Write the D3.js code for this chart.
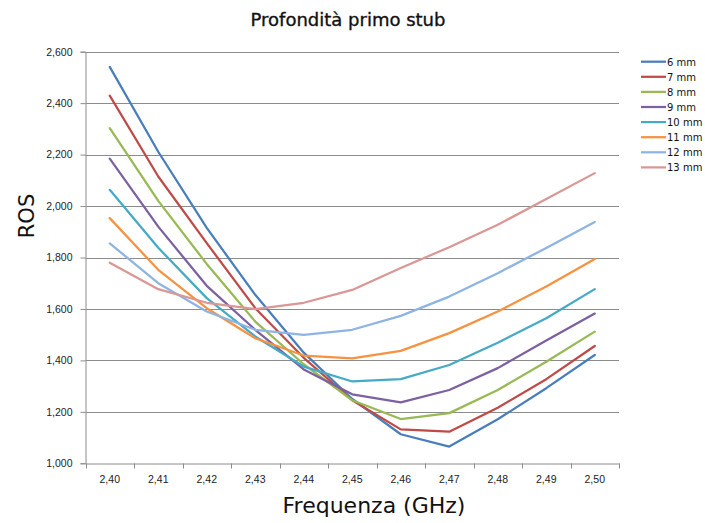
<!DOCTYPE html>
<html><head><meta charset="utf-8">
<script src="https://cdn.jsdelivr.net/npm/d3@7"></script>
<style>body{margin:0;background:#fff}svg{display:block}</style>
</head><body>
<svg id="c" width="705" height="523"></svg>
<script>
const categories = ["2,40","2,41","2,42","2,43","2,44","2,45","2,46","2,47","2,48","2,49","2,50"];
const seriesNames = ["6 mm","7 mm","8 mm","9 mm","10 mm","11 mm","12 mm","13 mm"];
const s6  = [2541,2211,1915,1655,1430,1250,1113,1065,1171,1292,1421];
const s7  = [2429,2115,1856,1603,1410,1245,1132,1123,1216,1327,1456];
const s8  = [2303,2020,1775,1551,1385,1245,1172,1195,1285,1395,1512];
const s9  = [2184,1920,1690,1519,1365,1268,1237,1285,1370,1477,1582];
const s10 = [2063,1838,1642,1493,1376,1318,1327,1382,1469,1564,1677];
const s11 = [1953,1752,1603,1486,1419,1408,1437,1506,1590,1687,1794];
const s12 = [1855,1700,1590,1519,1499,1519,1573,1648,1739,1837,1938];
const s13 = [1780,1677,1624,1599,1624,1674,1759,1840,1927,2027,2128];
const seriesValues = [s6,s7,s8,s9,s10,s11,s12,s13];
const yTicks = [1000,1200,1400,1600,1800,2000,2200,2400,2600];
const colors = ["#4A7EBB","#BE4B48","#98B954","#7D60A0","#46AAC5","#F69240","#8EB4E3","#D99795"];

const svg = d3.select("#c");
const L = 85.5, R = 619, T = 51.7, B = 463.3;
const x = d3.scaleBand().domain(categories).range([L, R]).padding(0);
const y = d3.scaleLinear().domain([1000, 2600]).range([B, T]);
const fmt = d => d3.format(",")(d);

// gridlines
svg.append("g").selectAll("line").data(yTicks.slice(1)).join("line")
  .attr("x1", L).attr("x2", R)
  .attr("y1", d => Math.round(y(d)) + 0.5).attr("y2", d => Math.round(y(d)) + 0.5)
  .attr("stroke", "#8c8c8c").attr("stroke-width", 1);

// y axis
const ya = svg.append("g").attr("transform", `translate(${L},0)`)
  .call(d3.axisLeft(y).tickValues(yTicks).tickFormat(fmt).tickSize(5).tickPadding(8));
ya.selectAll("path,line").attr("stroke", "#8c8c8c");
ya.selectAll("text").attr("font-family", "Liberation Sans, Arial, sans-serif").attr("font-size", 10.5).attr("fill", "#222");

// x axis
const xa = svg.append("g").attr("transform", `translate(0,${Math.round(B)+0.5})`)
  .call(d3.axisBottom(x).tickSize(0).tickPadding(12));
xa.select("path").attr("stroke", "#8c8c8c");
xa.selectAll("text").attr("font-family", "Liberation Sans, Arial, sans-serif").attr("font-size", 10.5).attr("fill", "#222");
const bounds = categories.map(c => x(c)).concat([R]);
xa.selectAll(".bt").data(bounds).join("line").attr("class","bt")
  .attr("x1", d => Math.round(d)+0.5).attr("x2", d => Math.round(d)+0.5)
  .attr("y1", 0).attr("y2", 5).attr("stroke", "#8c8c8c");

// lines
const line = d3.line().x((d,i) => x(categories[i]) + x.bandwidth()/2).y(d => y(d));
svg.append("g").selectAll("path").data(seriesValues).join("path")
  .attr("d", d => line(d)).attr("fill", "none")
  .attr("stroke", (d,i) => colors[i]).attr("stroke-width", 2.25)
  .attr("stroke-linejoin", "round").attr("stroke-linecap", "round");

// title
svg.append("text").attr("x", 348).attr("y", 26).attr("text-anchor", "middle")
  .attr("font-family", "DejaVu Sans, Verdana, sans-serif").attr("font-size", 18)
  .attr("fill", "#111").attr("stroke", "#111").attr("stroke-width", 0.35).text("Profondità primo stub");
// axis titles
svg.append("text").attr("transform", "translate(34,216) rotate(-90)").attr("text-anchor", "middle")
  .attr("font-family", "DejaVu Sans, Verdana, sans-serif").attr("font-size", 21).attr("fill", "#111").text("ROS");
svg.append("text").attr("x", 374).attr("y", 513).attr("text-anchor", "middle")
  .attr("font-family", "DejaVu Sans, Verdana, sans-serif").attr("font-size", 22).attr("fill", "#111").text("Frequenza (GHz)");

// legend
const lg = svg.append("g").selectAll("g").data(seriesNames).join("g")
  .attr("transform", (d,i) => `translate(641,${61.7 + i*15.1})`);
lg.append("line").attr("x1", 0).attr("x2", 25).attr("y1", 0).attr("y2", 0)
  .attr("stroke", (d,i) => colors[i]).attr("stroke-width", 2.25);
lg.append("text").attr("x", 26).attr("y", 3.8)
  .attr("font-family", "DejaVu Sans, Verdana, sans-serif").attr("font-size", 10).attr("fill", "#111").text(d => d);
</script>
</body></html>
